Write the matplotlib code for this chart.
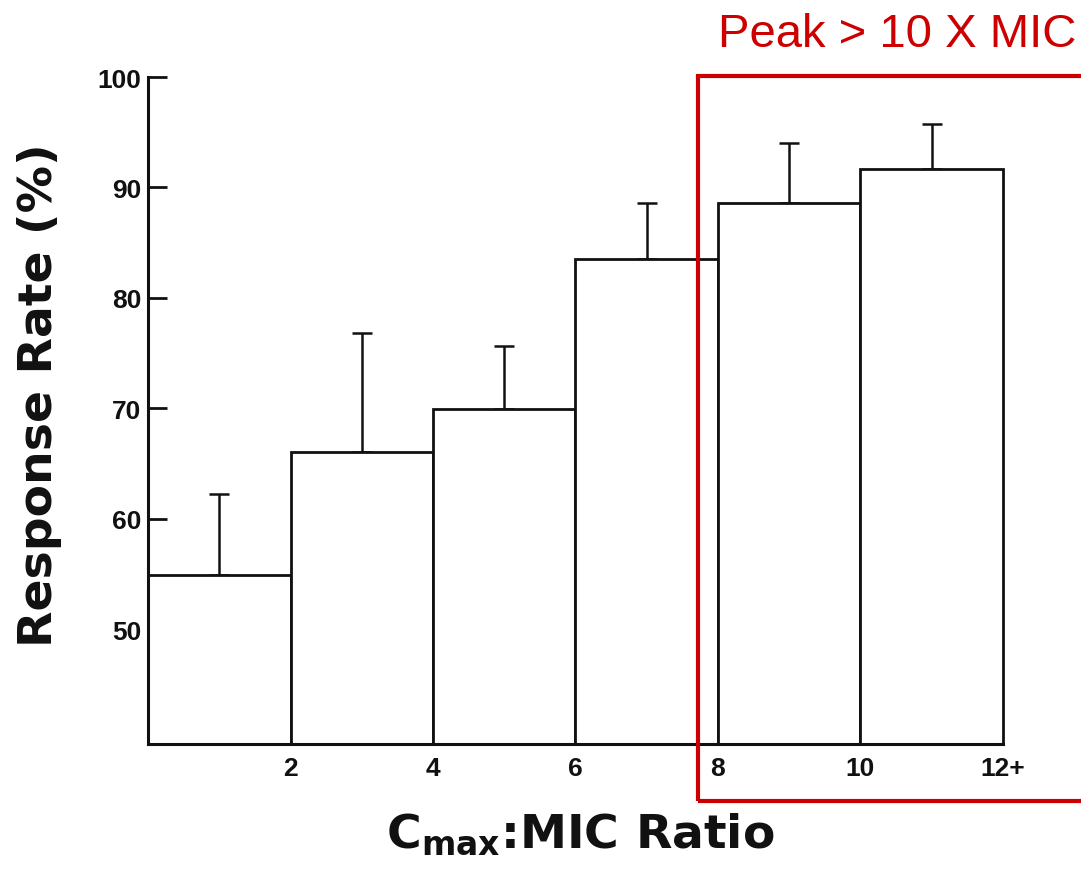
import numpy as np
import matplotlib
matplotlib.use("Agg")
import matplotlib.pyplot as plt
from matplotlib.patches import Rectangle

# =========================================================
# DATA
# =========================================================

bin_edges = [0, 2, 4, 6, 8, 10]          # left edge of each ratio bin
response_rate = [54.9, 66.0, 69.9, 83.5, 88.6, 91.7]
upper_error = [7.3, 10.8, 5.7, 5.1, 5.4, 4.0]
tick_pos = [2, 4, 6, 8, 10, 12]
tick_labels = ["2", "4", "6", "8", "10", "12+"]
y_ticks = [50, 60, 70, 80, 90, 100]

Y_MIN, Y_MAX = 39.6, 100

# =========================================================
# STYLE
# =========================================================

plt.rcParams["mathtext.fontset"] = "custom"
plt.rcParams["mathtext.rm"] = "DejaVu Sans:bold"
plt.rcParams["mathtext.bf"] = "DejaVu Sans:bold"

RED = "#cc0000"
INK = "#111111"
TICK_FONT = "Liberation Sans"
LABEL_FONT = "DejaVu Sans"

# =========================================================
# FIGURE
# =========================================================

fig = plt.figure(figsize=(10.81, 8.70), dpi=100)
ax = fig.add_axes([148 / 1081, 1 - 745 / 870, (1003 - 148) / 1081, (745 - 78) / 870])

# bars start at the axis floor so they can be drawn unclipped
heights = np.array(response_rate) - Y_MIN
bars = ax.bar(bin_edges, heights, bottom=Y_MIN, width=2, align="edge",
              color="white", edgecolor=INK, linewidth=2.0, zorder=2)
for b in bars:
    b.set_clip_on(False)

centers = np.array(bin_edges) + 1
ax.errorbar(centers, response_rate,
            yerr=[np.zeros(len(upper_error)), upper_error],
            fmt="none", ecolor=INK, elinewidth=1.8,
            capsize=7, capthick=1.8, zorder=1)

ax.set_xlim(0, 12)
ax.set_ylim(Y_MIN, Y_MAX)

ax.set_yticks(y_ticks)
ax.set_yticklabels([str(v) for v in y_ticks])
ax.set_xticks(tick_pos)
ax.set_xticklabels(tick_labels)

for lbl in ax.get_xticklabels() + ax.get_yticklabels():
    lbl.set_fontfamily(TICK_FONT)
    lbl.set_fontweight("bold")
    lbl.set_fontsize(19)
    lbl.set_color(INK)

ax.tick_params(axis="y", direction="in", length=14, width=2, pad=5, color=INK)
ax.tick_params(axis="x", length=0, pad=9)

for side in ("top", "right"):
    ax.spines[side].set_visible(False)
for side in ("left", "bottom"):
    ax.spines[side].set_linewidth(2.2)
    ax.spines[side].set_color(INK)

# axis titles
fig.text(40 / 1081, 1 - 395 / 870, "Response Rate (%)", rotation=90,
         ha="center", va="center", fontsize=34, fontweight="bold",
         family=LABEL_FONT, color=INK)
fig.text(580 / 1081, 1 - 835 / 870, r"C$_\mathbf{max}$:MIC Ratio",
         ha="center", va="center", fontsize=34, fontweight="bold",
         family=LABEL_FONT, color=INK)

# highlight box
box = Rectangle((698 / 1081, 1 - 802 / 870), 0.5, (802 - 77) / 870,
                transform=fig.transFigure, fill=False,
                edgecolor=RED, linewidth=3, clip_on=False)
fig.patches.append(box)
fig.text(1076 / 1081, 1 - 35 / 870, "Peak > 10 X MIC", ha="right", va="center",
         fontsize=34, family="Liberation Sans", color=RED)

fig.savefig("out.png", dpi=100)
